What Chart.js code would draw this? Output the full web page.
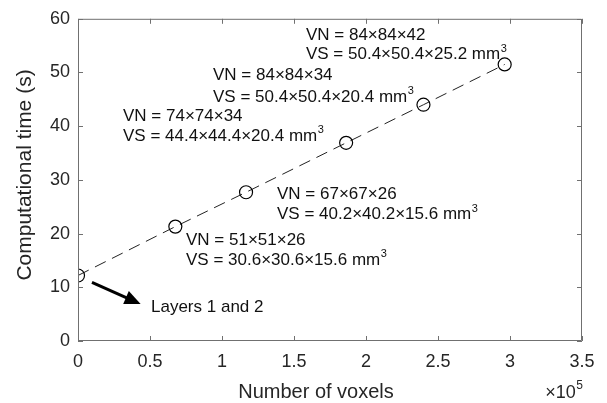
<!DOCTYPE html>
<html>
<head>
<meta charset="utf-8">
<script src="https://cdn.jsdelivr.net/npm/chart.js@4.4.1/dist/chart.umd.min.js"></script>
<style>
  html, body { margin: 0; padding: 0; background: #fff; }
  #wrap { width: 607px; height: 403px; position: relative; }
</style>
</head>
<body>
<div id="wrap"><canvas id="c" width="607" height="403"></canvas></div>
<script>
// ---- data (x in units of 10^5 voxels, y in seconds) ----
const voxels = [0, 0.676, 1.167, 1.862, 2.399, 2.963];
const timeSec = [12.2, 21.3, 27.7, 36.9, 44.0, 51.5];
const xTicks = [0, 0.5, 1, 1.5, 2, 2.5, 3, 3.5];
const yTicks = [0, 10, 20, 30, 40, 50, 60];
const vnLabels = ["VN = 51×51×26", "VN = 67×67×26", "VN = 74×74×34", "VN = 84×84×34", "VN = 84×84×42"];
const vsLabels = ["VS = 30.6×30.6×15.6 mm", "VS = 40.2×40.2×15.6 mm", "VS = 44.4×44.4×20.4 mm", "VS = 50.4×50.4×20.4 mm", "VS = 50.4×50.4×25.2 mm"];
const arrowLabel = "Layers 1 and 2";
const xTitle = "Number of voxels";
const yTitle = "Computational time (s)";

// ---- layout of annotations (data coords) ----
const annoPos = [[0.75, 18.7, 15.0], [1.382, 27.4, 23.5], [0.3125, 41.85, 38.1], [0.9375, 49.4, 45.4], [1.583, 57.0, 53.3]];
const arrowFrom = [0.097, 10.9], arrowTo = [0.435, 6.9], arrowTextPos = [0.507, 6.3];

const FONT = "'Liberation Sans', Arial, Helvetica, sans-serif";
const AXIS_COLOR = '#707070';
const TEXT_COLOR = '#262626';

const decorPlugin = {
  id: 'decor',
  afterDatasetsDraw(chart) {
    const {ctx, chartArea: a, scales: {x, y}} = chart;
    ctx.save();
    // box + inward ticks
    ctx.strokeStyle = AXIS_COLOR;
    ctx.lineWidth = 1;
    ctx.beginPath();
    ctx.rect(a.left + 0.5, a.top + 0.5, a.right - a.left - 1, a.bottom - a.top - 1);
    ctx.stroke();
    const tl = 5;
    ctx.beginPath();
    xTicks.forEach(v => {
      const px = Math.round(x.getPixelForValue(v)) + 0.5;
      ctx.moveTo(px, a.bottom); ctx.lineTo(px, a.bottom - tl);
      ctx.moveTo(px, a.top); ctx.lineTo(px, a.top + tl);
    });
    yTicks.forEach(v => {
      const py = Math.round(y.getPixelForValue(v)) + 0.5;
      ctx.moveTo(a.left, py); ctx.lineTo(a.left + tl, py);
      ctx.moveTo(a.right, py); ctx.lineTo(a.right - tl, py);
    });
    ctx.stroke();

    // axis titles
    ctx.fillStyle = TEXT_COLOR;
    ctx.textAlign = 'center';
    ctx.textBaseline = 'alphabetic';
    ctx.font = '20px ' + FONT;
    ctx.fillText(xTitle, 316, 398);
    ctx.save();
    ctx.translate(31, 175);
    ctx.rotate(-Math.PI / 2);
    ctx.font = '21px ' + FONT;
    ctx.fillText(yTitle, 0, 0);
    ctx.restore();

    // annotations
    ctx.fillStyle = '#111';
    ctx.textBaseline = 'middle';
    ctx.textAlign = 'left';
    const drawSup = (txt, px, py) => {
      ctx.font = '17px ' + FONT;
      ctx.fillText(txt, px, py);
      const w = ctx.measureText(txt).width;
      ctx.font = '11px ' + FONT;
      ctx.fillText('3', px + w + 0.5, py - 6);
    };
    annoPos.forEach((p, i) => {
      const px = x.getPixelForValue(p[0]);
      ctx.font = '17px ' + FONT;
      ctx.fillText(vnLabels[i], px, y.getPixelForValue(p[1]));
      drawSup(vsLabels[i], px, y.getPixelForValue(p[2]));
    });

    // arrow
    const x0 = x.getPixelForValue(arrowFrom[0]), y0 = y.getPixelForValue(arrowFrom[1]);
    const x1 = x.getPixelForValue(arrowTo[0]), y1 = y.getPixelForValue(arrowTo[1]);
    const ang = Math.atan2(y1 - y0, x1 - x0);
    const hl = 16, hw = 7;
    const bx = x1 - hl * Math.cos(ang), by = y1 - hl * Math.sin(ang);
    ctx.strokeStyle = '#000';
    ctx.fillStyle = '#000';
    ctx.lineWidth = 3;
    ctx.beginPath();
    ctx.moveTo(x0, y0); ctx.lineTo(bx + 2 * Math.cos(ang), by + 2 * Math.sin(ang));
    ctx.stroke();
    ctx.beginPath();
    ctx.moveTo(x1, y1);
    ctx.lineTo(bx + hw * Math.sin(ang), by - hw * Math.cos(ang));
    ctx.lineTo(bx - hw * Math.sin(ang), by + hw * Math.cos(ang));
    ctx.closePath();
    ctx.fill();
    ctx.font = '17px ' + FONT;
    ctx.fillStyle = '#111';
    ctx.fillText(arrowLabel, x.getPixelForValue(arrowTextPos[0]), y.getPixelForValue(arrowTextPos[1]));

    // exponent x10^5
    ctx.fillStyle = TEXT_COLOR;
    ctx.textAlign = 'right';
    ctx.font = '12px ' + FONT;
    const ex = a.right + 1;
    const ew = ctx.measureText('5').width;
    ctx.fillText('5', ex, 386);
    ctx.font = '18px ' + FONT;
    ctx.fillText('×10', ex - ew - 0.5, 393);
    ctx.restore();
  }
};

new Chart(document.getElementById('c'), {
  type: 'scatter',
  data: {
    datasets: [{
      data: voxels.map((v, i) => ({x: v, y: timeSec[i]})),
      showLine: true,
      borderColor: '#222',
      borderWidth: 1,
      borderDash: [12, 7],
      pointStyle: 'circle',
      pointRadius: 6.5,
      pointBorderWidth: 1.2,
      pointBorderColor: '#000',
      pointBackgroundColor: 'rgba(0,0,0,0)',
      tension: 0
    }]
  },
  plugins: [decorPlugin],
  options: {
    responsive: false,
    animation: false,
    devicePixelRatio: 1,
    layout: { padding: { left: 0, right: 25, top: 17, bottom: 0 } },
    plugins: { legend: { display: false }, tooltip: { enabled: false } },
    scales: {
      x: {
        type: 'linear', min: 0, max: 3.5,
        afterBuildTicks: s => { s.ticks = xTicks.map(v => ({value: v})); },
        afterFit: s => { s.height = 62; },
        grid: { display: false, drawTicks: false },
        border: { display: false },
        ticks: { color: TEXT_COLOR, font: { family: FONT, size: 18 }, padding: 10, maxRotation: 0, callback: v => String(v) },
        title: { display: false }
      },
      y: {
        type: 'linear', min: 0, max: 60,
        afterBuildTicks: s => { s.ticks = yTicks.map(v => ({value: v})); },
        afterFit: s => { s.width = 78; },
        grid: { display: false, drawTicks: false },
        border: { display: false },
        ticks: { color: TEXT_COLOR, font: { family: FONT, size: 18 }, padding: 8, callback: v => String(v) },
        title: { display: false }
      }
    }
  }
});
</script>
</body>
</html>
